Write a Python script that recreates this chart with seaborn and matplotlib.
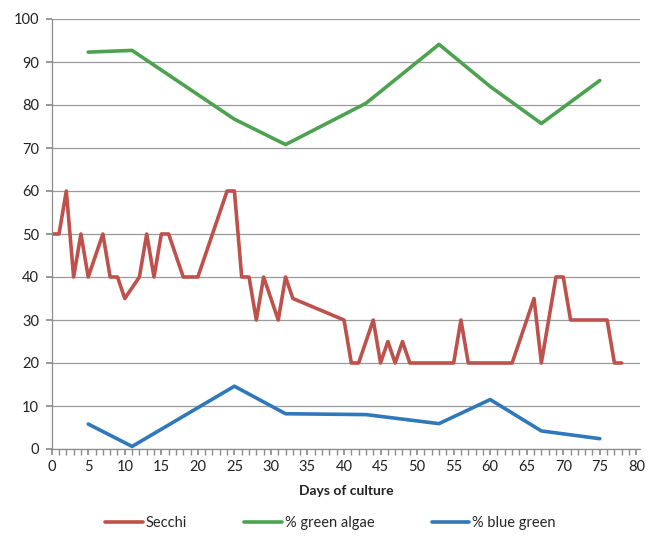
import matplotlib
matplotlib.use("Agg")
import matplotlib.pyplot as plt
from matplotlib.ticker import MultipleLocator
import pandas as pd
import seaborn as sns

# Secchi disk readings (cm) by day of culture
secchi_days = [0, 1, 2, 3, 4, 5, 7, 8, 9, 10, 12, 13, 14, 15, 16, 18, 20, 24, 25,
               26, 27, 28, 29, 31, 32, 33, 40, 41, 42, 44, 45, 46, 47, 48, 49,
               55, 56, 57, 63, 66, 67, 69, 70, 71, 76, 77, 78]
secchi_vals = [50, 50, 60, 40, 50, 40, 50, 40, 40, 35, 40, 50, 40, 50, 50, 40, 40, 60, 60,
               40, 40, 30, 40, 30, 40, 35, 30, 20, 20, 30, 20, 25, 20, 25, 20,
               20, 30, 20, 20, 35, 20, 40, 40, 30, 30, 20, 20]

# Phytoplankton composition sampling days
algae_days = [5, 11, 25, 32, 43, 53, 60, 67, 75]
green_pct = [92.3, 92.7, 76.7, 70.8, 80.4, 94.1, 84.3, 75.7, 85.7]
blue_pct = [5.8, 0.6, 14.6, 8.2, 8.0, 5.9, 11.5, 4.2, 2.4]

series_names = ["Secchi", "% green algae", "% blue green"]
colors = ["#BE514C", "#4DA24F", "#2F78B9"]

df = pd.concat([
    pd.DataFrame({"day": secchi_days, "value": secchi_vals, "series": series_names[0]}),
    pd.DataFrame({"day": algae_days, "value": green_pct, "series": series_names[1]}),
    pd.DataFrame({"day": algae_days, "value": blue_pct, "series": series_names[2]}),
], ignore_index=True)

sns.set_theme(style="white")
plt.rcParams["font.family"] = ["Lato", "DejaVu Sans"]

fig = plt.figure(figsize=(6.48, 5.36), dpi=100)
ax = fig.add_axes([51.7 / 648, 1 - 449 / 536, (640 - 51.7) / 648, (449 - 19) / 536])

sns.lineplot(data=df, x="day", y="value", hue="series", hue_order=series_names,
             palette=colors, linewidth=2.6, ax=ax, estimator=None, sort=False,
             legend=False)

ax.set_xlim(0, 80.5)
ax.set_ylim(0, 100)
ax.xaxis.set_major_locator(MultipleLocator(5))
ax.xaxis.set_minor_locator(MultipleLocator(1))
ax.yaxis.set_major_locator(MultipleLocator(10))
ax.grid(axis="y", color="#9A9A9A", linewidth=0.9)
ax.set_axisbelow(True)
for side in ["top", "right"]:
    ax.spines[side].set_visible(False)
for side in ["left", "bottom"]:
    ax.spines[side].set_color("#8C8C8C")
    ax.spines[side].set_linewidth(0.9)
ax.tick_params(axis="both", which="both", direction="out", color="#8C8C8C",
               labelsize=10.5, labelcolor="#222222")
ax.tick_params(axis="x", which="major", length=4, bottom=True, pad=4)
ax.tick_params(axis="x", which="minor", length=4, bottom=True)
ax.tick_params(axis="y", which="major", length=4, left=True, pad=5)

ax.set_xlabel("Days of culture", fontsize=10, fontweight="bold", labelpad=8,
              color="#222222")
ax.set_ylabel("")

handles = [plt.Line2D([0], [0], color=c, linewidth=2.6) for c in colors]
fig.legend(handles, series_names, loc="center", bbox_to_anchor=(0.51, 1 - 523 / 536),
           ncol=3, frameon=False, fontsize=10.5, columnspacing=3.9, handlelength=2.6,
           handletextpad=0.2)

fig.savefig("out.png", dpi=100, facecolor="white")
